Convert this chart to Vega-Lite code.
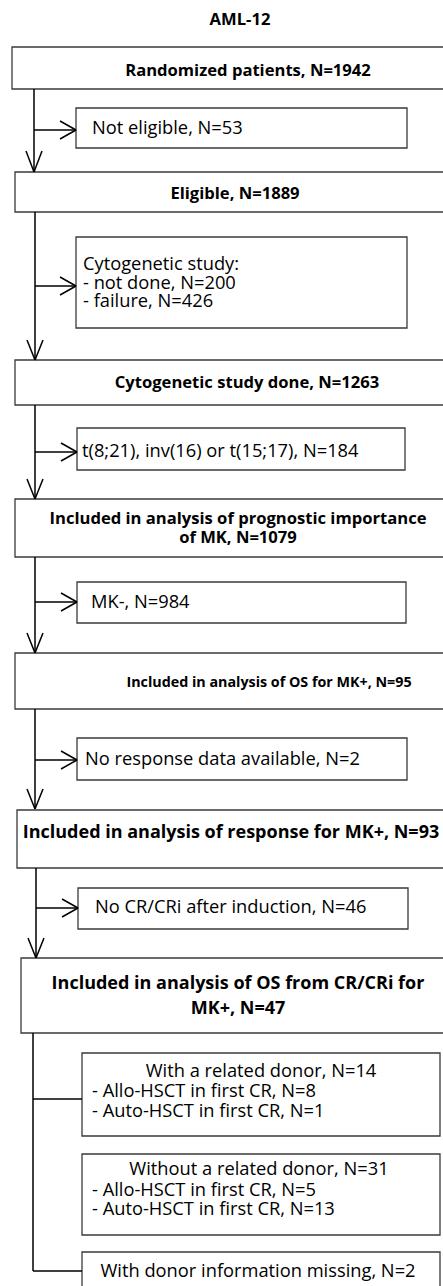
{
  "$schema": "https://vega.github.io/schema/vega-lite/v6.json",
  "width": 443,
  "height": 1286,
  "autosize": {"type": "none"},
  "padding": 0,
  "background": "white",
  "config": {"view": {"stroke": null}, "font": "Open Sans"},
  "datasets": {
    "boxes": [
      {"id": "B1", "x": 12, "x2": 460, "y": 47, "y2": 89},
      {"id": "S1", "x": 76, "x2": 407, "y": 108, "y2": 148},
      {"id": "B2", "x": 15, "x2": 460, "y": 172, "y2": 212},
      {"id": "S2", "x": 76, "x2": 407, "y": 237, "y2": 328},
      {"id": "B3", "x": 15, "x2": 460, "y": 360, "y2": 405},
      {"id": "S3", "x": 77, "x2": 405, "y": 428, "y2": 470},
      {"id": "B4", "x": 15, "x2": 460, "y": 499, "y2": 557},
      {"id": "S4", "x": 77, "x2": 406, "y": 582, "y2": 623},
      {"id": "B5", "x": 15, "x2": 460, "y": 653, "y2": 709},
      {"id": "S5", "x": 77, "x2": 407, "y": 738, "y2": 780},
      {"id": "B6", "x": 17, "x2": 460, "y": 810, "y2": 868},
      {"id": "S6", "x": 78, "x2": 408, "y": 888, "y2": 929},
      {"id": "B7", "x": 21, "x2": 460, "y": 958, "y2": 1033},
      {"id": "D1", "x": 82, "x2": 440, "y": 1053, "y2": 1136},
      {"id": "D2", "x": 82, "x2": 440, "y": 1154, "y2": 1235},
      {"id": "D3", "x": 82, "x2": 440, "y": 1252, "y2": 1300}
    ],
    "lines": [
      {"x": 34, "y": 89, "x2": 34, "y2": 172},
      {"x": 26, "y": 151, "x2": 34, "y2": 172},
      {"x": 42, "y": 151, "x2": 34, "y2": 172},
      {"x": 34, "y": 130, "x2": 76, "y2": 130},
      {"x": 60, "y": 121, "x2": 76, "y2": 130},
      {"x": 60, "y": 139, "x2": 76, "y2": 130},

      {"x": 35, "y": 212, "x2": 35, "y2": 360},
      {"x": 27, "y": 340, "x2": 35, "y2": 360},
      {"x": 43, "y": 340, "x2": 35, "y2": 360},
      {"x": 35, "y": 286, "x2": 76, "y2": 286},
      {"x": 60, "y": 277, "x2": 76, "y2": 286},
      {"x": 60, "y": 295, "x2": 76, "y2": 286},

      {"x": 35, "y": 405, "x2": 35, "y2": 499},
      {"x": 27, "y": 479, "x2": 35, "y2": 499},
      {"x": 43, "y": 479, "x2": 35, "y2": 499},
      {"x": 35, "y": 452, "x2": 77, "y2": 452},
      {"x": 61, "y": 443, "x2": 77, "y2": 452},
      {"x": 61, "y": 461, "x2": 77, "y2": 452},

      {"x": 35, "y": 557, "x2": 35, "y2": 653},
      {"x": 27, "y": 633, "x2": 35, "y2": 653},
      {"x": 43, "y": 633, "x2": 35, "y2": 653},
      {"x": 35, "y": 602, "x2": 77, "y2": 602},
      {"x": 61, "y": 593, "x2": 77, "y2": 602},
      {"x": 61, "y": 611, "x2": 77, "y2": 602},

      {"x": 35, "y": 709, "x2": 35, "y2": 809},
      {"x": 27, "y": 789, "x2": 35, "y2": 809},
      {"x": 43, "y": 789, "x2": 35, "y2": 809},
      {"x": 35, "y": 760, "x2": 77, "y2": 760},
      {"x": 61, "y": 751, "x2": 77, "y2": 760},
      {"x": 61, "y": 769, "x2": 77, "y2": 760},

      {"x": 36, "y": 868, "x2": 36, "y2": 958},
      {"x": 28, "y": 938, "x2": 36, "y2": 958},
      {"x": 44, "y": 938, "x2": 36, "y2": 958},
      {"x": 36, "y": 908, "x2": 78, "y2": 908},
      {"x": 62, "y": 899, "x2": 78, "y2": 908},
      {"x": 62, "y": 917, "x2": 78, "y2": 908},

      {"x": 33, "y": 1033, "x2": 33, "y2": 1271},
      {"x": 33, "y": 1099, "x2": 82, "y2": 1099},
      {"x": 33, "y": 1271, "x2": 82, "y2": 1271}
    ],
    "texts": [
      {"kind": "bold", "x": 240, "y": 20, "label": "AML-12"},
      {"kind": "bold", "x": 248, "y": 71, "label": "Randomized patients, N=1942"},
      {"kind": "bold", "x": 235, "y": 194, "label": "Eligible, N=1889"},
      {"kind": "bold", "x": 247, "y": 383, "label": "Cytogenetic study done, N=1263"},
      {"kind": "bold", "x": 238, "y": 519, "label": "Included in analysis of prognostic importance"},
      {"kind": "bold", "x": 238, "y": 538, "label": "of MK, N=1079"},
      {"kind": "boldsmall", "x": 269, "y": 683, "label": "Included in analysis of OS for MK+, N=95"},
      {"kind": "boldlarge", "x": 231, "y": 833, "label": "Included in analysis of response for MK+, N=93"},
      {"kind": "boldlarge", "x": 238, "y": 984, "label": "Included in analysis of OS from CR/CRi for"},
      {"kind": "boldlarge", "x": 238, "y": 1009, "label": "MK+, N=47"},
      {"kind": "left", "x": 92, "y": 129, "label": "Not eligible, N=53"},
      {"kind": "left", "x": 83, "y": 265, "label": "Cytogenetic study:"},
      {"kind": "left", "x": 83, "y": 284, "label": "- not done, N=200"},
      {"kind": "left", "x": 83, "y": 302, "label": "- failure, N=426"},
      {"kind": "left", "x": 82, "y": 452, "label": "t(8;21), inv(16) or t(15;17), N=184"},
      {"kind": "left", "x": 91, "y": 603, "label": "MK-, N=984"},
      {"kind": "left", "x": 85, "y": 760, "label": "No response data available, N=2"},
      {"kind": "left", "x": 95, "y": 908, "label": "No CR/CRi after induction, N=46"},
      {"kind": "left", "x": 92, "y": 1092, "label": "- Allo-HSCT in first CR, N=8"},
      {"kind": "left", "x": 92, "y": 1112, "label": "- Auto-HSCT in first CR, N=1"},
      {"kind": "left", "x": 92, "y": 1191, "label": "- Allo-HSCT in first CR, N=5"},
      {"kind": "left", "x": 92, "y": 1210, "label": "- Auto-HSCT in first CR, N=13"},
      {"kind": "center", "x": 261, "y": 1072, "label": "With a related donor, N=14"},
      {"kind": "center", "x": 259, "y": 1170, "label": "Without a related donor, N=31"},
      {"kind": "center", "x": 258, "y": 1272, "label": "With donor information missing, N=2"}
    ]
  },
  "layer": [
    {
      "data": {"name": "boxes"},
      "mark": {"type": "rect", "fill": "white", "stroke": "#3a3a3a", "strokeWidth": 1.3, "clip": true},
      "encoding": {
        "x": {"field": "x", "type": "quantitative", "scale": {"domain": [0, 443], "nice": false, "zero": false}, "axis": null},
        "x2": {"field": "x2"},
        "y": {"field": "y", "type": "quantitative", "scale": {"domain": [0, 1286], "nice": false, "zero": false, "reverse": true}, "axis": null},
        "y2": {"field": "y2"}
      }
    },
    {
      "data": {"name": "lines"},
      "mark": {"type": "rule", "stroke": "black", "strokeWidth": 1.5},
      "encoding": {
        "x": {"field": "x", "type": "quantitative"},
        "x2": {"field": "x2"},
        "y": {"field": "y", "type": "quantitative"},
        "y2": {"field": "y2"}
      }
    },
    {
      "data": {"name": "texts"},
      "transform": [{"filter": "datum.kind === 'bold'"}],
      "mark": {"type": "text", "align": "center", "baseline": "middle", "fontWeight": "bold", "fontSize": 16.6, "font": "Open Sans", "color": "black"},
      "encoding": {
        "x": {"field": "x", "type": "quantitative"},
        "y": {"field": "y", "type": "quantitative"},
        "text": {"field": "label"}
      }
    },
    {
      "data": {"name": "texts"},
      "transform": [{"filter": "datum.kind === 'boldsmall'"}],
      "mark": {"type": "text", "align": "center", "baseline": "middle", "fontWeight": "bold", "fontSize": 14.3, "font": "Open Sans", "color": "black"},
      "encoding": {
        "x": {"field": "x", "type": "quantitative"},
        "y": {"field": "y", "type": "quantitative"},
        "text": {"field": "label"}
      }
    },
    {
      "data": {"name": "texts"},
      "transform": [{"filter": "datum.kind === 'boldlarge'"}],
      "mark": {"type": "text", "align": "center", "baseline": "middle", "fontWeight": "bold", "fontSize": 18, "font": "Open Sans", "color": "black"},
      "encoding": {
        "x": {"field": "x", "type": "quantitative"},
        "y": {"field": "y", "type": "quantitative"},
        "text": {"field": "label"}
      }
    },
    {
      "data": {"name": "texts"},
      "transform": [{"filter": "datum.kind === 'left'"}],
      "mark": {"type": "text", "align": "left", "baseline": "middle", "fontSize": 18.3, "font": "Open Sans", "color": "black"},
      "encoding": {
        "x": {"field": "x", "type": "quantitative"},
        "y": {"field": "y", "type": "quantitative"},
        "text": {"field": "label"}
      }
    },
    {
      "data": {"name": "texts"},
      "transform": [{"filter": "datum.kind === 'center'"}],
      "mark": {"type": "text", "align": "center", "baseline": "middle", "fontSize": 18.3, "font": "Open Sans", "color": "black"},
      "encoding": {
        "x": {"field": "x", "type": "quantitative"},
        "y": {"field": "y", "type": "quantitative"},
        "text": {"field": "label"}
      }
    }
  ]
}
